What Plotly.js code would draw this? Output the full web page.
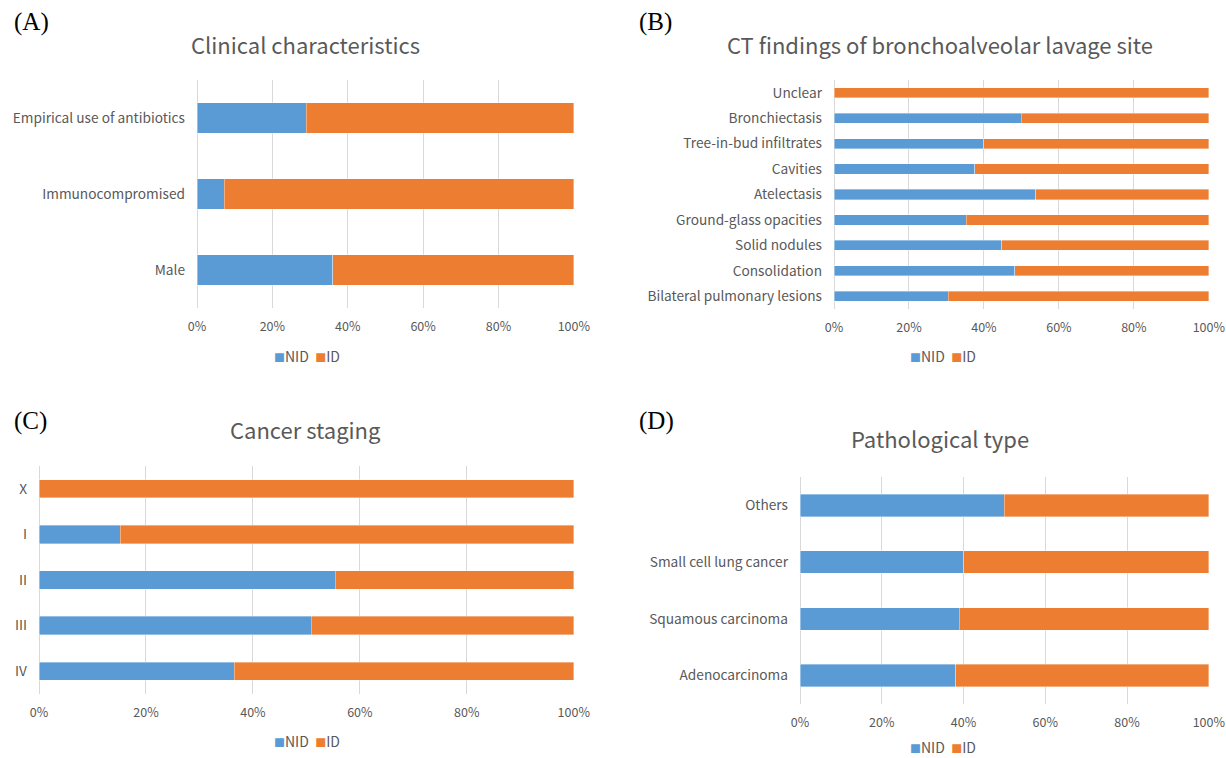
<!DOCTYPE html>
<html>
<head>
<meta charset="utf-8">
<script src="https://cdn.plot.ly/plotly-3.0.1.min.js"></script>
<style>html,body{margin:0;padding:0;background:#fff;}#chart{width:1226px;height:758px;}</style>
</head>
<body>
<div id="chart"></div>
<script>
// ---- Data ----
const seriesNames = ["NID", "ID"];

const catA = ["Male", "Immunocompromised", "Empirical use of antibiotics"];
const nidA = [0.36, 0.072, 0.29];
const idA  = [0.64, 0.928, 0.71];

const catB = ["Bilateral pulmonary lesions", "Consolidation", "Solid nodules", "Ground-glass opacities",
              "Atelectasis", "Cavities", "Tree-in-bud infiltrates", "Bronchiectasis", "Unclear"];
const nidB = [0.305, 0.482, 0.447, 0.353, 0.538, 0.375, 0.40, 0.50, 0.0];
const idB  = [0.695, 0.518, 0.553, 0.647, 0.462, 0.625, 0.60, 0.50, 1.0];

const catC = ["IV", "III", "II", "I", "X"];
const nidC = [0.365, 0.509, 0.554, 0.152, 0.0];
const idC  = [0.635, 0.491, 0.446, 0.848, 1.0];

const catD = ["Adenocarcinoma", "Squamous carcinoma", "Small cell lung cancer", "Others"];
const nidD = [0.381, 0.390, 0.40, 0.50];
const idD  = [0.619, 0.610, 0.60, 0.50];

const titles = ["Clinical characteristics", "CT findings of bronchoalveolar lavage site", "Cancer staging", "Pathological type"];
const letters = ["(A)", "(B)", "(C)", "(D)"];
const xTicks = [0, 0.2, 0.4, 0.6, 0.8, 1.0];
const xTickText = ["0%", "20%", "40%", "60%", "80%", "100%"];

// ---- Styling ----
const W = 1226, H = 758;
const colors = ["#5B9BD5", "#ED7D31"];
const txt = "#595959", grid = "#D9D9D9";
const FONT = "'Noto Sans CJK SC', 'Noto Sans', sans-serif";

const panels = [
  {cat: catA, nid: nidA, id: idA, x0: 197, x1: 574, y0: 80, y1: 308, tx: 305, ty: 44, lx: 12, ly: 22, legX: 307, legY: 356},
  {cat: catB, nid: nidB, id: idB, x0: 834, x1: 1209, y0: 80, y1: 309, tx: 940, ty: 44, lx: 637, ly: 22, legX: 943, legY: 356},
  {cat: catC, nid: nidC, id: idC, x0: 39, x1: 574, y0: 466, y1: 694, tx: 305, ty: 429, lx: 12, ly: 421, legX: 307, legY: 741},
  {cat: catD, nid: nidD, id: idD, x0: 800, x1: 1209, y0: 477, y1: 704, tx: 940, ty: 438, lx: 637, ly: 421, legX: 943, legY: 747}
];

const data = [];
const layout = {
  width: W, height: H,
  margin: {l: 0, r: 0, t: 0, b: 0},
  paper_bgcolor: "#fff", plot_bgcolor: "#fff",
  barmode: "stack",
  bargap: 0.6,
  font: {family: FONT, color: txt, size: 14},
  annotations: [],
  showlegend: false
};

panels.forEach((p, i) => {
  const n = i === 0 ? "" : String(i + 1);
  const xa = "x" + n, ya = "y" + n;
  [p.nid, p.id].forEach((vals, k) => {
    data.push({
      type: "bar", orientation: "h",
      x: vals, y: p.cat,
      name: seriesNames[k],
      xaxis: xa, yaxis: ya,
      marker: {color: colors[k], line: {color: "rgba(255,255,255,0.6)", width: 0.6}},
      hoverinfo: "x+y+name"
    });
  });
  layout["xaxis" + n] = {
    domain: [p.x0 / W, p.x1 / W],
    anchor: ya,
    range: [0, 1.0005],
    tickvals: xTicks, ticktext: xTickText,
    showgrid: true, gridcolor: grid, gridwidth: 1,
    zeroline: true, zerolinecolor: grid, zerolinewidth: 1,
    showline: false, ticks: "",
    tickfont: {family: FONT, size: 12.5, color: txt},
    ticklabelstandoff: 9,
    ticklabeloverflow: "allow",
    fixedrange: true
  };
  layout["yaxis" + n] = {
    domain: [1 - p.y1 / H, 1 - p.y0 / H],
    anchor: xa,
    type: "category",
    categoryorder: "array", categoryarray: p.cat,
    showgrid: false, zeroline: false, showline: false, ticks: "",
    ticklabelstandoff: 11,
    tickfont: {family: FONT, size: 13.7, color: txt},
    fixedrange: true
  };
  // legend drawn as text: coloured squares + series names
  const legText = seriesNames.map((s, k) =>
    '<span style="color:' + colors[k] + ';font-size:11px">■</span>' + s).join("  ");
  layout.annotations.push({
    text: legText, xref: "paper", yref: "paper",
    x: p.legX / W, y: 1 - p.legY / H, xanchor: "center", yanchor: "middle",
    showarrow: false, font: {family: FONT, size: 14, color: txt}
  });
  layout.annotations.push({
    text: titles[i], xref: "paper", yref: "paper",
    x: p.tx / W, y: 1 - p.ty / H, xanchor: "center", yanchor: "middle",
    showarrow: false, font: {family: FONT, size: 22, color: txt}
  });
  layout.annotations.push({
    text: letters[i], xref: "paper", yref: "paper",
    x: p.lx / W, y: 1 - p.ly / H, xanchor: "left", yanchor: "middle",
    showarrow: false, font: {family: "'Liberation Serif', 'Times New Roman', serif", size: 25, color: "#000"}
  });
});

Plotly.newPlot("chart", data, layout, {displayModeBar: false});
</script>
</body>
</html>
